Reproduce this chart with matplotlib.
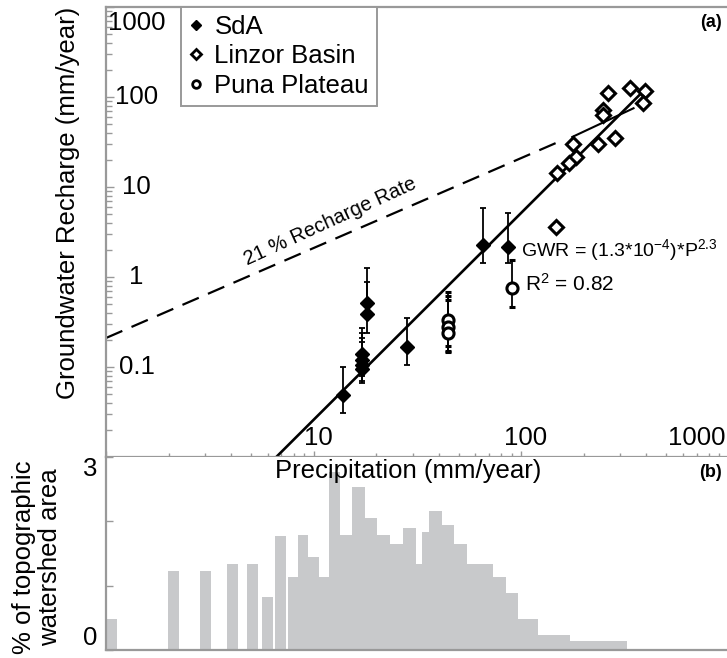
import numpy as np
import matplotlib
matplotlib.use("Agg")
import matplotlib.pyplot as plt
from matplotlib.lines import Line2D

plt.rcParams["font.family"] = ["Liberation Sans", "DejaVu Sans"]
plt.rcParams["mathtext.fontset"] = "custom"
plt.rcParams["mathtext.rm"] = "Liberation Sans"
plt.rcParams["mathtext.it"] = "Liberation Sans:italic"

# --- data ---
sda_p = [13.9, 18.1, 18.1, 17.1, 17.1, 17.1, 17.1, 28.2, 65.6, 86.6]
sda_r = [0.049, 0.51, 0.39, 0.14, 0.12, 0.105, 0.095, 0.167, 2.27, 2.15]
sda_lo = [0.031, 0.35, 0.24, 0.09, 0.08, 0.07, 0.066, 0.105, 1.43, 1.43]
sda_hi = [0.10, 1.26, 0.88, 0.27, 0.24, 0.21, 0.19, 0.35, 5.8, 5.1]

puna_p = [44.5, 44.5, 44.5, 90.5]
puna_r = [0.33, 0.28, 0.24, 0.75]
puna_lo = [0.17, 0.15, 0.147, 0.46]
puna_hi = [0.68, 0.62, 0.55, 1.55]

linzor_p = [260, 335, 396, 387, 246, 247, 178, 235, 284, 184, 170, 149, 147.5]
linzor_r = [111, 126, 117, 86, 72, 63, 30, 30, 35, 21.5, 18.5, 14.3, 3.6]

fit_a, fit_b = 1.3e-4, 2.3
fit_p = [6.0, 395.0]
rate = 0.21
rate_p = [1.0, 158.0]
join_p = [176.0, 347.0]
join_r = [36.0, 75.0]

hist_left = [1.00, 1.99, 2.84, 3.83, 4.78, 5.65, 6.52, 7.54, 8.42, 9.41,
             10.6, 11.9, 13.4, 15.3, 17.7, 20.2, 23.4, 27.0, 31.2, 33.3,
             36.0, 41.6, 47.5, 54.9, 73.3, 84.7, 96.7, 120.8, 172.2]
hist_right = [1.13, 2.25, 3.21, 4.33, 5.40, 6.38, 7.37, 8.42, 9.41, 10.6,
              11.9, 13.4, 15.3, 17.7, 20.2, 23.4, 27.0, 31.2, 33.3, 36.0,
              41.6, 47.5, 54.9, 73.3, 84.7, 96.7, 120.8, 172.2, 324.0]
hist_h = [0.48, 1.23, 1.23, 1.33, 1.33, 0.83, 1.77, 1.14, 1.78, 1.45,
          1.14, 2.76, 1.78, 2.53, 2.05, 1.78, 1.64, 1.90, 1.34, 1.83,
          2.16, 1.94, 1.64, 1.34, 1.14, 0.89, 0.48, 0.23, 0.14]

xticks = [10, 100, 1000]
yticks = [0.1, 1, 10, 100, 1000]
ytick_labels = ["0.1", "1", "10", "100", "1000"]

W, H = 727, 658
gray = "#999999"
fs = 18.5

fig = plt.figure(figsize=(W / 100, H / 100), dpi=100)
x0, x1 = 106 / W, 729 / W
ax = fig.add_axes([x0, 1 - 457 / H, x1 - x0, 450 / H])
axb = fig.add_axes([x0, 1 - 650 / H, x1 - x0, 193 / H])

# --- top panel ---
ax.set_xscale("log")
ax.set_yscale("log")
ax.set_xlim(1, 1000)
ax.set_ylim(0.01, 1000)

pp = np.array(fit_p)
ax.plot(pp, fit_a * pp ** fit_b, color="black", lw=1.9, zorder=2)
rp = np.array(rate_p)
ax.plot(rp, rate * rp, color="black", lw=1.6, dashes=(8, 4.5), zorder=2)
ax.plot(join_p, join_r, color="black", lw=1.5, zorder=2)

ax.errorbar(sda_p, sda_r,
            yerr=[np.array(sda_r) - np.array(sda_lo), np.array(sda_hi) - np.array(sda_r)],
            fmt="D", color="black", ms=7.5, lw=1.3, capsize=2.5, capthick=1.3, zorder=4)
ax.errorbar(puna_p, puna_r,
            yerr=[np.array(puna_r) - np.array(puna_lo), np.array(puna_hi) - np.array(puna_r)],
            fmt="o", color="black", mfc="white", mec="black", mew=2.2, ms=8,
            lw=1.3, capsize=2.5, capthick=1.3, zorder=4)
ax.plot(linzor_p, linzor_r, "D", mfc="white", mec="black", mew=2.2, ms=7, ls="none", zorder=3)

for s in ["left", "top", "bottom"]:
    ax.spines[s].set_color(gray)
    ax.spines[s].set_linewidth(1.6)
ax.spines["right"].set_visible(False)
ax.tick_params(axis="y", which="both", direction="in", color=gray, width=1.0,
               labelleft=False)
ax.tick_params(axis="y", which="major", length=6)
ax.tick_params(axis="y", which="minor", length=4)
ax.tick_params(axis="x", which="both", direction="inout", color=gray, width=1.0,
               labelbottom=False)
ax.tick_params(axis="x", which="major", length=8)
ax.tick_params(axis="x", which="minor", length=6)
ax.set_yticks(yticks)

xt = ax.get_xaxis_transform()
for v in xticks:
    ha = "right" if v == 1000 else "center"
    dx = 0.96 if v == 1000 else 1.05
    ax.text(v * dx, 0.015, str(v), transform=xt, ha=ha, va="bottom", fontsize=fs)
yt = ax.get_yaxis_transform()
for v, lab in zip(yticks, ytick_labels):
    yy = v * 0.66 if v == 1000 else v
    ax.text(0.049, yy, lab, transform=yt, ha="center", va="center", fontsize=fs)

ax.text(12.0, 4.1, "21 % Recharge Rate", rotation=24.5, ha="center", va="center",
        fontsize=14.5, rotation_mode="anchor")
ax.text(100, 2.0, r"GWR = (1.3*10$^{-4}$)*P$^{2.3}$", ha="left", va="center", fontsize=14)
ax.text(104, 0.84, r"R$^2$ = 0.82", ha="left", va="center", fontsize=15)
ax.text(0.989, 0.965, "(a)", transform=ax.transAxes, ha="right", va="center",
        fontsize=13, fontweight="bold")

handles = [
    Line2D([], [], marker="D", color="black", ls="none", ms=5),
    Line2D([], [], marker="D", mfc="white", mec="black", mew=2, ls="none", ms=5),
    Line2D([], [], marker="o", mfc="white", mec="black", mew=2, ls="none", ms=5.5),
]
leg = ax.legend(handles, ["SdA", "Linzor Basin", "Puna Plateau"], loc="upper left",
                bbox_to_anchor=((181 - 106) / 623, 1.0), fontsize=fs, frameon=True,
                fancybox=False, framealpha=1, edgecolor=gray, borderpad=0.3,
                labelspacing=0.22, handlelength=0.6, handletextpad=0.4,
                borderaxespad=0)
leg.get_frame().set_linewidth(1.4)

# --- bottom panel ---
axb.set_xscale("log")
axb.set_xlim(1, 1000)
axb.set_ylim(0, 3)
widths = np.array(hist_right) - np.array(hist_left)
axb.bar(hist_left, hist_h, width=widths, align="edge", color="#c8c9cb", lw=0)
for s in ["left", "bottom"]:
    axb.spines[s].set_color(gray)
    axb.spines[s].set_linewidth(1.6)
axb.spines["top"].set_visible(False)
axb.spines["right"].set_visible(False)
axb.set_xticks([])
axb.minorticks_off()
axb.tick_params(axis="x", which="both", bottom=False, labelbottom=False)
axb.set_yticks([0, 1, 2, 3])
axb.tick_params(axis="y", direction="in", length=5, color=gray, width=1.0, labelleft=False)
ybt = axb.get_yaxis_transform()
axb.text(-0.025, 0.0, "0", transform=ybt, ha="center", va="bottom", fontsize=fs)
axb.text(-0.025, 3.0, "3", transform=ybt, ha="center", va="top", fontsize=fs)
axb.text(0.989, 0.92, "(b)", transform=axb.transAxes, ha="right", va="center",
         fontsize=13, fontweight="bold")

fig.text(408 / W, 1 - 471 / H, "Precipitation (mm/year)", ha="center", va="center", fontsize=fs)
fig.text(68 / W, 1 - 203 / H, "Groundwater Recharge (mm/year)", rotation=90,
         ha="center", va="center", fontsize=fs)
fig.text(37 / W, 1 - 557 / H, "% of topographic\nwatershed area", rotation=90,
         ha="center", va="center", fontsize=fs, linespacing=1.15)

fig.savefig("out.png", dpi=100)
